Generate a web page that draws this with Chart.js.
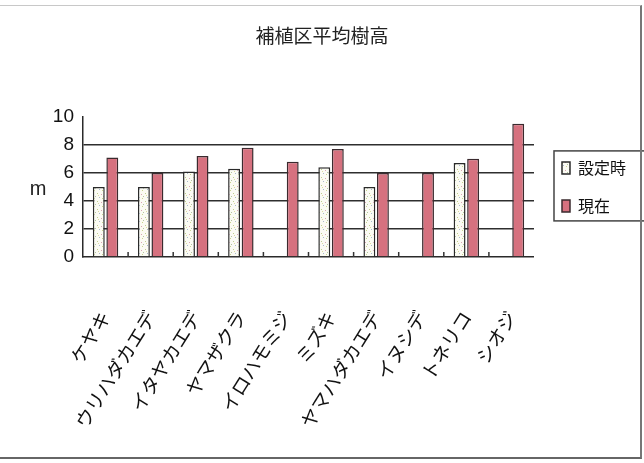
<!DOCTYPE html>
<html>
<head>
<meta charset="utf-8">
<script src="https://cdn.jsdelivr.net/npm/chart.js@4/dist/chart.umd.min.js"></script>
<style>
  html, body { margin: 0; padding: 0; background: #fff; }
  #wrap { position: relative; width: 644px; height: 463px; }
  #frame {
    position: absolute; left: 0; top: 5px; width: 640px; height: 451px;
    border-top: 1px solid #c8c8c8; border-right: 2px solid #777; border-bottom: 2px solid #666;
    pointer-events: none;
  }
</style>
</head>
<body>
<div id="wrap">
  <canvas id="myChart" width="644" height="463"></canvas>
  <div id="frame"></div>
</div>
<script>
const categories = ['ケヤキ', 'ウリハダカエデ', 'イタヤカエデ', 'ヤマザクラ', 'イロハモミジ', 'ミズキ', 'ヤマハダカエデ', 'イヌシデ', 'トネリコ', 'シオジ'];
const heightAtPlanting = [5.0, 5.0, 6.1, 6.3, null, 6.4, 5.0, null, 6.7, null];
const heightNow = [7.1, 6.0, 7.2, 7.8, 6.8, 7.7, 6.0, 6.0, 7.0, 9.5];
const yTicks = [0, 2, 4, 6, 8, 10];

const jpFont = '"Noto Sans CJK JP", "Noto Sans", sans-serif';

// speckled fill for the pale bars
function speckle() {
    const c = document.createElement('canvas');
    c.width = 8;
    c.height = 8;
    const g = c.getContext('2d');
    g.fillStyle = '#fbfbf3';
    g.fillRect(0, 0, 8, 8);
    const dots = [[1, 1, '#bfcf8e'], [5, 2, '#d9a6b4'], [3, 5, '#a9b9cc'], [6, 6, '#c9d48f'], [2, 3, '#dcd9a0'], [7, 4, '#b3c4a0']];
    dots.forEach(d => {
        g.fillStyle = d[2];
        g.fillRect(d[0], d[1], 1, 1);
    });
    return g.createPattern(c, 'repeat');
}

const ctx = document.getElementById('myChart').getContext('2d');

// unit label "m" left of the value axis, small tick marks between categories, legend frame
const extras = {
    id: 'extras',
    afterDraw(chart) {
        const c = chart.ctx;
        const area = chart.chartArea;
        const x = chart.scales.x;

        c.save();
        c.fillStyle = '#222';
        c.font = '20px "Liberation Sans", sans-serif';
        c.textAlign = 'center';
        c.textBaseline = 'middle';
        c.fillText('m', 38, 189);

        c.strokeStyle = '#333';
        c.lineWidth = 1.5;
        for (let i = 1; i < categories.length; i++) {
            const px = x.getPixelForValue(i - 0.5);
            c.beginPath();
            c.moveTo(px, area.bottom);
            c.lineTo(px, area.bottom - 5);
            c.stroke();
        }

        const lg = chart.legend;
        if (lg && lg.legendHitBoxes.length) {
            const boxes = lg.legendHitBoxes;
            const left = boxes[0].left - 8;
            const top = boxes[0].top - 9;
            const bottom = boxes[boxes.length - 1].top + boxes[boxes.length - 1].height + 7;
            c.strokeStyle = '#444';
            c.lineWidth = 1.5;
            c.strokeRect(left, top, chart.width + 10 - left, bottom - top);
        }
        c.restore();
    }
};

const myChart = new Chart(ctx, {
    type: 'bar',
    data: {
        labels: categories,
        datasets: [{
            label: '設定時',
            data: heightAtPlanting,
            backgroundColor: speckle(),
            borderColor: '#2a2a2a',
            borderWidth: 1.5,
            barPercentage: 0.88,
            categoryPercentage: 0.6
        }, {
            label: '現在',
            data: heightNow,
            backgroundColor: '#d6717f',
            borderColor: '#3a2a2e',
            borderWidth: 1.5,
            barPercentage: 0.88,
            categoryPercentage: 0.6
        }]
    },
    options: {
        responsive: false,
        animation: false,
        layout: {
            padding: {top: 24, left: 0, right: 0, bottom: 31}
        },
        plugins: {
            title: {
                display: true,
                text: '補植区平均樹高',
                color: '#222',
                font: {family: jpFont, size: 19, weight: 'normal'},
                padding: {top: 0, bottom: 70}
            },
            legend: {
                position: 'right',
                fullSize: false,
                labels: {
                    color: '#111',
                    font: {family: jpFont, size: 16},
                    boxWidth: 8,
                    boxHeight: 12,
                    padding: 22,
                    // en space keeps some room before the frame's right edge
                    generateLabels: (chart) => Chart.defaults.plugins.legend.labels.generateLabels(chart)
                        .map(item => Object.assign(item, {text: item.text + '\u2002'}))
                }
            },
            tooltip: {enabled: false}
        },
        scales: {
            x: {
                offset: true,
                grid: {display: false, drawTicks: false},
                border: {display: true, color: '#2a2a2a', width: 1.5},
                ticks: {
                    color: '#111',
                    font: {family: jpFont, size: 19},
                    minRotation: 58,
                    maxRotation: 58,
                    padding: 50,
                    autoSkip: false
                },
                afterFit: (axis) => {
                    axis.height = 175;
                }
            },
            y: {
                min: 0,
                max: 10,
                afterBuildTicks: (axis) => {
                    axis.ticks = yTicks.map(v => ({value: v}));
                },
                afterFit: (axis) => {
                    axis.width = 83;
                },
                grid: {
                    drawTicks: false,
                    color: (c) => (c.tick.value === 0 || c.tick.value === 10) ? 'rgba(0,0,0,0)' : '#2e2e2e',
                    lineWidth: 1.5
                },
                border: {display: true, color: '#2a2a2a', width: 1.5},
                ticks: {
                    color: '#111',
                    font: {family: '"Liberation Sans", sans-serif', size: 19},
                    padding: 9,
                    autoSkip: false
                }
            },
            // spacer between the plot and the legend
            gap: {
                position: 'right',
                display: true,
                grid: {display: false, drawTicks: false},
                border: {display: false},
                ticks: {display: false},
                afterFit: (axis) => {
                    axis.width = 6;
                }
            }
        }
    },
    plugins: [extras]
});
</script>
</body>
</html>
